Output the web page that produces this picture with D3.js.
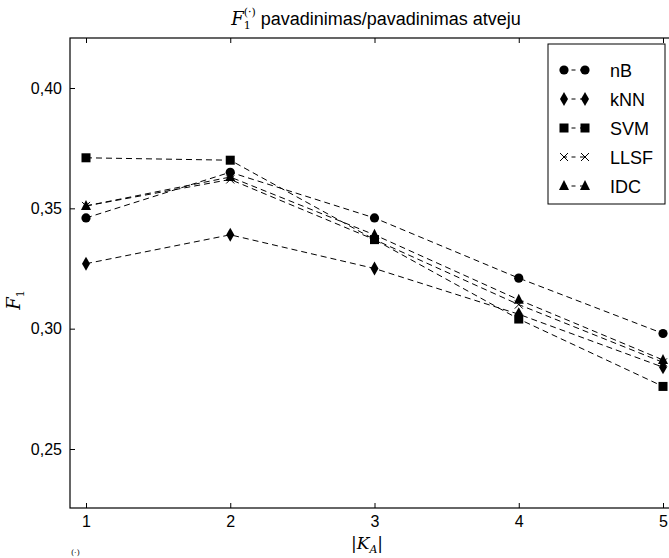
<!DOCTYPE html>
<html><head><meta charset="utf-8">
<script src="https://cdn.jsdelivr.net/npm/d3@7"></script>
<style>body{margin:0;background:#fff}svg{display:block}</style>
</head><body>
<script>
const categories = [1, 2, 3, 4, 5];
const seriesNames = ["nB", "kNN", "SVM", "LLSF", "IDC"];
const nB   = [0.346, 0.365, 0.346, 0.321, 0.298];
const kNN  = [0.327, 0.339, 0.325, 0.306, 0.284];
const SVM  = [0.371, 0.370, 0.337, 0.304, 0.276];
const LLSF = [0.351, 0.362, 0.337, 0.310, 0.286];
const IDC  = [0.351, 0.363, 0.339, 0.312, 0.287];
const yTicks = [0.25, 0.30, 0.35, 0.40];
const xTicks = [1, 2, 3, 4, 5];
const markers = ["circle", "diamond", "square", "cross", "triangle"];
const seriesValues = [nB, kNN, SVM, LLSF, IDC];

const W = 669, H = 558;
const L = 70, T = 38, B = 508;
const sans = "'Liberation Sans', Arial, Helvetica, sans-serif";
const serif = "'DejaVu Serif', 'Liberation Serif', serif";
const svg = d3.select("body").append("svg").attr("width", W).attr("height", H)
  .style("font-family", sans);

const x = d3.scaleLinear().domain([1, 5]).range([86, 663]);
const y = d3.scaleLinear().domain([0.25, 0.40]).range([449, 88]);

svg.append("rect").attr("x", L).attr("y", T).attr("width", 700 - L).attr("height", B - T)
  .attr("fill", "none").attr("stroke", "#000").attr("stroke-width", 1.2);

const fmt = d => d3.format(".2f")(d).replace(".", ",");
const yAxis = svg.append("g").attr("transform", `translate(${L},0)`)
  .call(d3.axisLeft(y).tickValues(yTicks).tickSize(-5).tickPadding(8).tickFormat(fmt));
const xAxis = svg.append("g").attr("transform", `translate(0,${B})`)
  .call(d3.axisBottom(x).tickValues(xTicks).tickSize(-5).tickPadding(8).tickFormat(d3.format("d")));
svg.append("g").attr("transform", `translate(0,${T})`)
  .call(d3.axisTop(x).tickValues(xTicks).tickSize(-5).tickFormat(""));
[yAxis, xAxis].forEach(g => {
  g.selectAll("text").attr("font-size", 16).attr("fill", "#000").style("font-family", sans);
});
svg.selectAll(".domain").remove();
svg.selectAll(".tick line").attr("stroke", "#000");

function drawMarker(g, type, cx, cy) {
  if (type === "circle") {
    g.append("circle").attr("cx", cx).attr("cy", cy).attr("r", 4.6).attr("fill", "#000");
  } else if (type === "diamond") {
    g.append("path").attr("d", `M${cx},${cy-7}L${cx+4},${cy}L${cx},${cy+7}L${cx-4},${cy}Z`).attr("fill", "#000");
  } else if (type === "square") {
    g.append("rect").attr("x", cx-4.5).attr("y", cy-4.5).attr("width", 9).attr("height", 9).attr("fill", "#000");
  } else if (type === "cross") {
    g.append("path").attr("d", `M${cx-4},${cy-4}L${cx+4},${cy+4}M${cx-4},${cy+4}L${cx+4},${cy-4}`)
      .attr("stroke", "#000").attr("stroke-width", 1).attr("fill", "none");
  } else if (type === "triangle") {
    g.append("path").attr("d", `M${cx},${cy-6}L${cx+5},${cy+4}L${cx-5},${cy+4}Z`).attr("fill", "#000");
  }
}

const line = d3.line().x((d, i) => x(categories[i])).y(d => y(d));
seriesValues.forEach((vals, si) => {
  const g = svg.append("g");
  g.append("path").attr("d", line(vals)).attr("fill", "none").attr("stroke", "#000")
    .attr("stroke-width", 1).attr("stroke-dasharray", "6,4");
  vals.forEach((v, i) => drawMarker(g, markers[si], x(categories[i]), y(v)));
});

const lg = svg.append("g");
lg.append("rect").attr("x", 548).attr("y", 44).attr("width", 117).attr("height", 160)
  .attr("fill", "#fff").attr("stroke", "#000").attr("stroke-width", 1);
seriesNames.forEach((name, i) => {
  const cy = 70 + i * 29;
  lg.append("line").attr("x1", 563).attr("x2", 586).attr("y1", cy).attr("y2", cy)
    .attr("stroke", "#000").attr("stroke-dasharray", "4,4.5");
  drawMarker(lg, markers[i], 564, cy);
  drawMarker(lg, markers[i], 585, cy);
  lg.append("text").attr("x", 610).attr("y", cy + 6.5).attr("font-size", 18).text(name);
});

const title = svg.append("text").attr("x", 376).attr("y", 25).attr("text-anchor", "middle")
  .attr("font-size", 18);
title.append("tspan").attr("font-family", serif).attr("font-style", "italic").text("F");
title.append("tspan").attr("font-family", serif).attr("font-size", 11).attr("dy", 4).text("1");
title.append("tspan").attr("font-family", serif).attr("font-size", 11).attr("dx", -7).attr("dy", -13).text("(·)");
title.append("tspan").attr("dy", 9).text(" pavadinimas/pavadinimas atveju");

const yl = svg.append("text").attr("transform", "translate(20,300) rotate(-90)").attr("text-anchor", "middle")
  .attr("font-family", serif).attr("font-size", 18);
yl.append("tspan").attr("font-style", "italic").text("F");
yl.append("tspan").attr("font-size", 11).attr("dy", 4).text("1");

const xl = svg.append("text").attr("x", 367).attr("y", 549).attr("text-anchor", "middle")
  .attr("font-family", serif).attr("font-size", 17);
xl.append("tspan").text("|");
xl.append("tspan").attr("font-style", "italic").text("K");
xl.append("tspan").attr("font-style", "italic").attr("font-size", 11).attr("dy", 4).text("A");
xl.append("tspan").attr("dy", -4).text("|");

svg.append("text").attr("x", 71).attr("y", 555).attr("font-size", 8)
  .attr("font-family", serif).text("(·)");
</script>
</body></html>
